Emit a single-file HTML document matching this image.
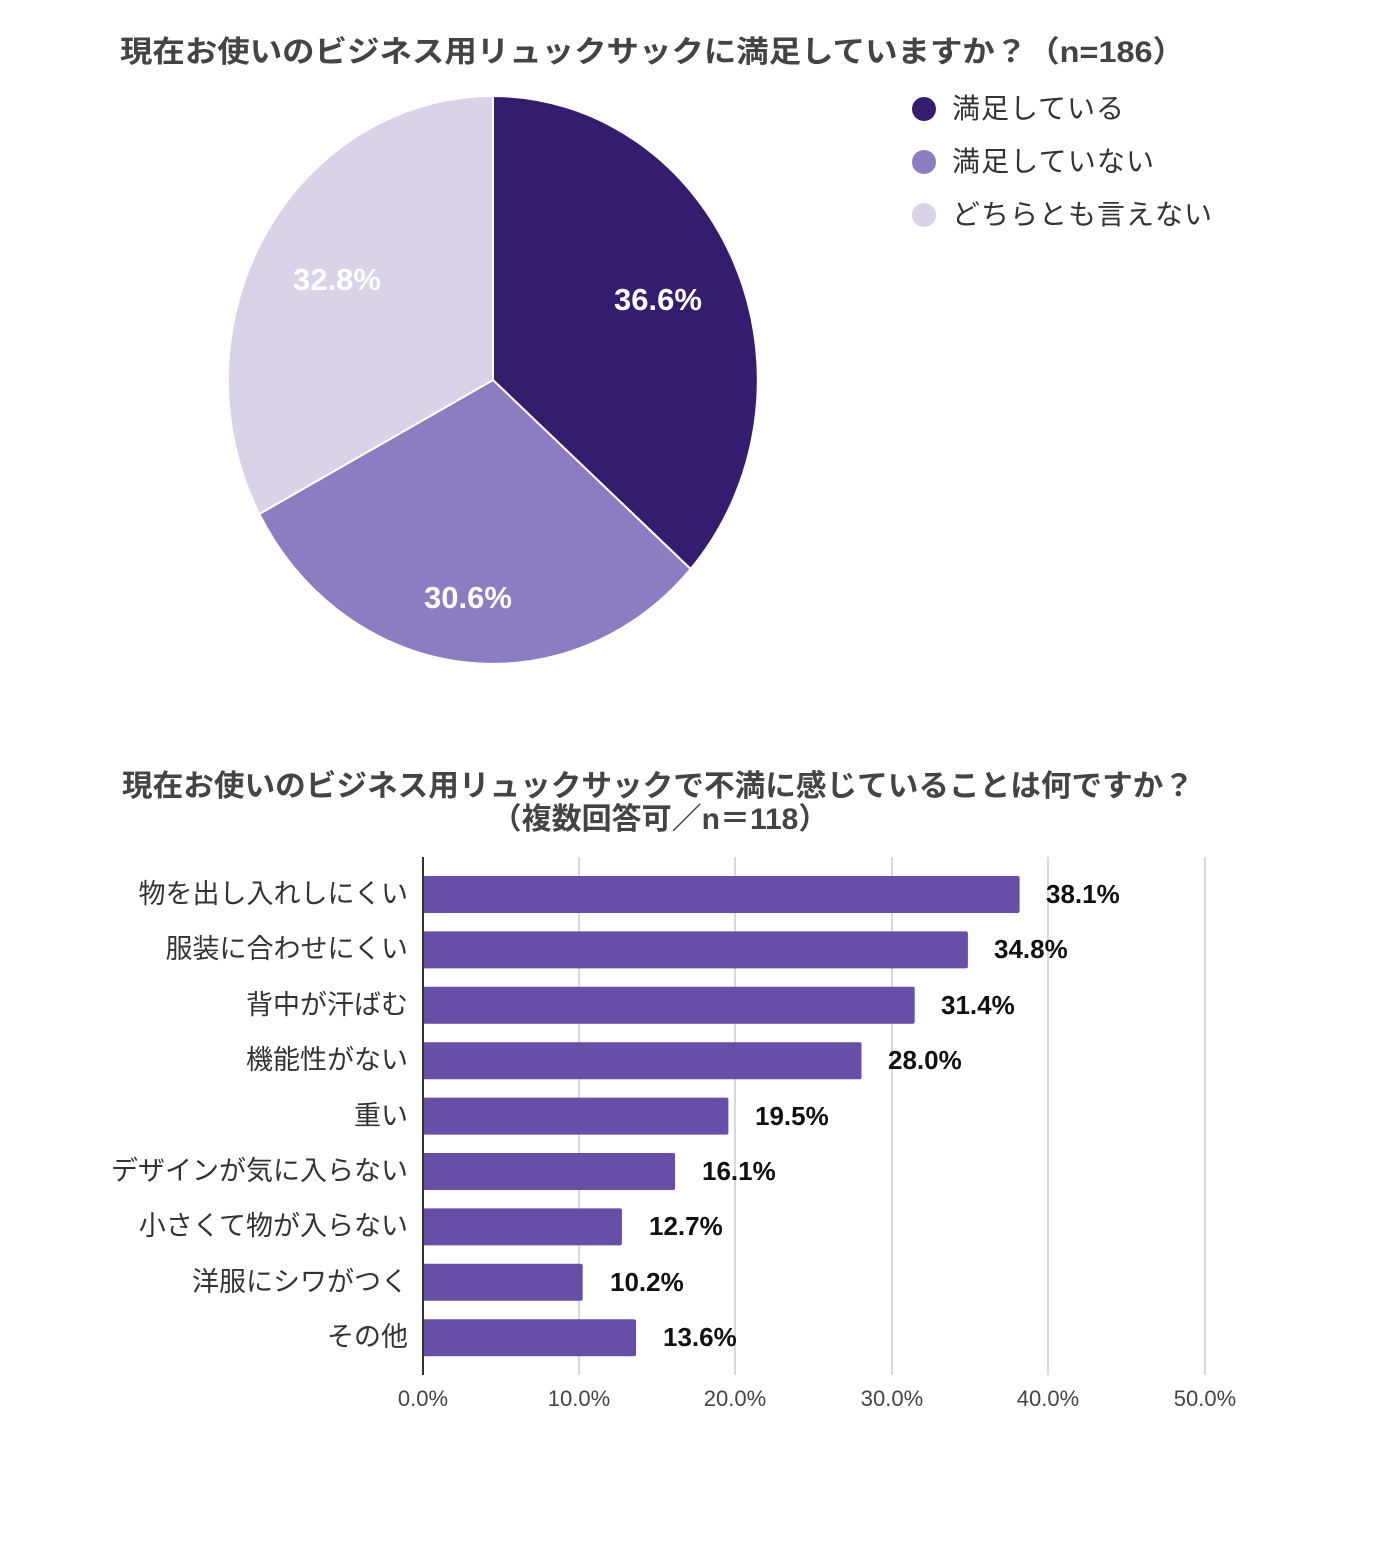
<!DOCTYPE html>
<html><head><meta charset="utf-8"><style>
body{margin:0;background:#fff;}
svg{display:block;}
text{font-family:"Liberation Sans","Noto Sans CJK JP",sans-serif;}
</style></head><body>
<svg width="1379" height="1543" viewBox="0 0 1379 1543" xmlns="http://www.w3.org/2000/svg">
<rect width="1379" height="1543" fill="#fff"/>
<text x="120" y="62" font-size="30" font-weight="bold" fill="#444" textLength="1065" lengthAdjust="spacingAndGlyphs">現在お使いのビジネス用リュックサックに満足していますか？（n=186）</text>
<path d="M493,380 L493,96 A265,284 0 0 1 690.6,569 Z" fill="#341c6e" stroke="#fff" stroke-width="2"/>
<path d="M493,380 L690.6,569 A265,284 0 0 1 259.3,514 Z" fill="#8e7cc3" stroke="#fff" stroke-width="2"/>
<path d="M493,380 L259.3,514 A265,284 0 0 1 493,96 Z" fill="#d9d2e9" stroke="#fff" stroke-width="2"/>
<text x="658" y="310" font-size="31" font-weight="bold" fill="#fff" text-anchor="middle">36.6%</text>
<text x="468" y="608" font-size="31" font-weight="bold" fill="#fff" text-anchor="middle">30.6%</text>
<text x="337" y="290" font-size="31" font-weight="bold" fill="#fff" text-anchor="middle">32.8%</text>
<circle cx="924" cy="109" r="12" fill="#341c6e"/>
<circle cx="924" cy="162" r="12" fill="#8e7cc3"/>
<circle cx="924" cy="215" r="12" fill="#d9d2e9"/>
<text x="952" y="118" font-size="28" fill="#333" textLength="172">満足している</text>
<text x="952" y="171" font-size="28" fill="#333" textLength="202">満足していない</text>
<text x="952" y="224" font-size="28" fill="#333" textLength="260">どちらとも言えない</text>

<text x="122" y="796" font-size="30" font-weight="bold" fill="#444" textLength="1072" lengthAdjust="spacingAndGlyphs">現在お使いのビジネス用リュックサックで不満に感じていることは何ですか？</text>
<text x="660" y="829" font-size="30" font-weight="bold" fill="#444" text-anchor="middle">（複数回答可／n＝118）</text>

<g stroke="#ccc" stroke-width="1.5">
<line x1="579" y1="857" x2="579" y2="1375"/>
<line x1="735" y1="857" x2="735" y2="1375"/>
<line x1="892" y1="857" x2="892" y2="1375"/>
<line x1="1048" y1="857" x2="1048" y2="1375"/>
<line x1="1205" y1="857" x2="1205" y2="1375"/>
</g>
<g fill="#674ea7">
<rect x="423" y="876" width="596.6" height="37" rx="2"/>
<rect x="423" y="931.4" width="544.9" height="37" rx="2"/>
<rect x="423" y="986.8" width="491.7" height="37" rx="2"/>
<rect x="423" y="1042.2" width="438.5" height="37" rx="2"/>
<rect x="423" y="1097.6" width="305.4" height="37" rx="2"/>
<rect x="423" y="1153" width="252.1" height="37" rx="2"/>
<rect x="423" y="1208.4" width="198.9" height="37" rx="2"/>
<rect x="423" y="1263.8" width="159.7" height="37" rx="2"/>
<rect x="423" y="1319.2" width="213" height="37" rx="2"/>
</g>
<line x1="423" y1="857" x2="423" y2="1375" stroke="#333" stroke-width="2"/>
<g font-size="26" font-weight="bold" fill="#111">
<text x="1046" y="903">38.1%</text>
<text x="994" y="958">34.8%</text>
<text x="941" y="1014">31.4%</text>
<text x="888" y="1069">28.0%</text>
<text x="755" y="1125">19.5%</text>
<text x="702" y="1180">16.1%</text>
<text x="649" y="1235">12.7%</text>
<text x="610" y="1291">10.2%</text>
<text x="663" y="1346">13.6%</text>
</g>
<g font-size="27" fill="#333" text-anchor="end">
<text x="408" y="903">物を出し入れしにくい</text>
<text x="408" y="958">服装に合わせにくい</text>
<text x="408" y="1014">背中が汗ばむ</text>
<text x="408" y="1069">機能性がない</text>
<text x="408" y="1125">重い</text>
<text x="408" y="1180">デザインが気に入らない</text>
<text x="408" y="1235">小さくて物が入らない</text>
<text x="408" y="1291">洋服にシワがつく</text>
<text x="408" y="1346">その他</text>
</g>
<g font-size="22" fill="#444" text-anchor="middle">
<text x="423" y="1406">0.0%</text>
<text x="579" y="1406">10.0%</text>
<text x="735" y="1406">20.0%</text>
<text x="892" y="1406">30.0%</text>
<text x="1048" y="1406">40.0%</text>
<text x="1205" y="1406">50.0%</text>
</g>
</svg>
</body></html>
